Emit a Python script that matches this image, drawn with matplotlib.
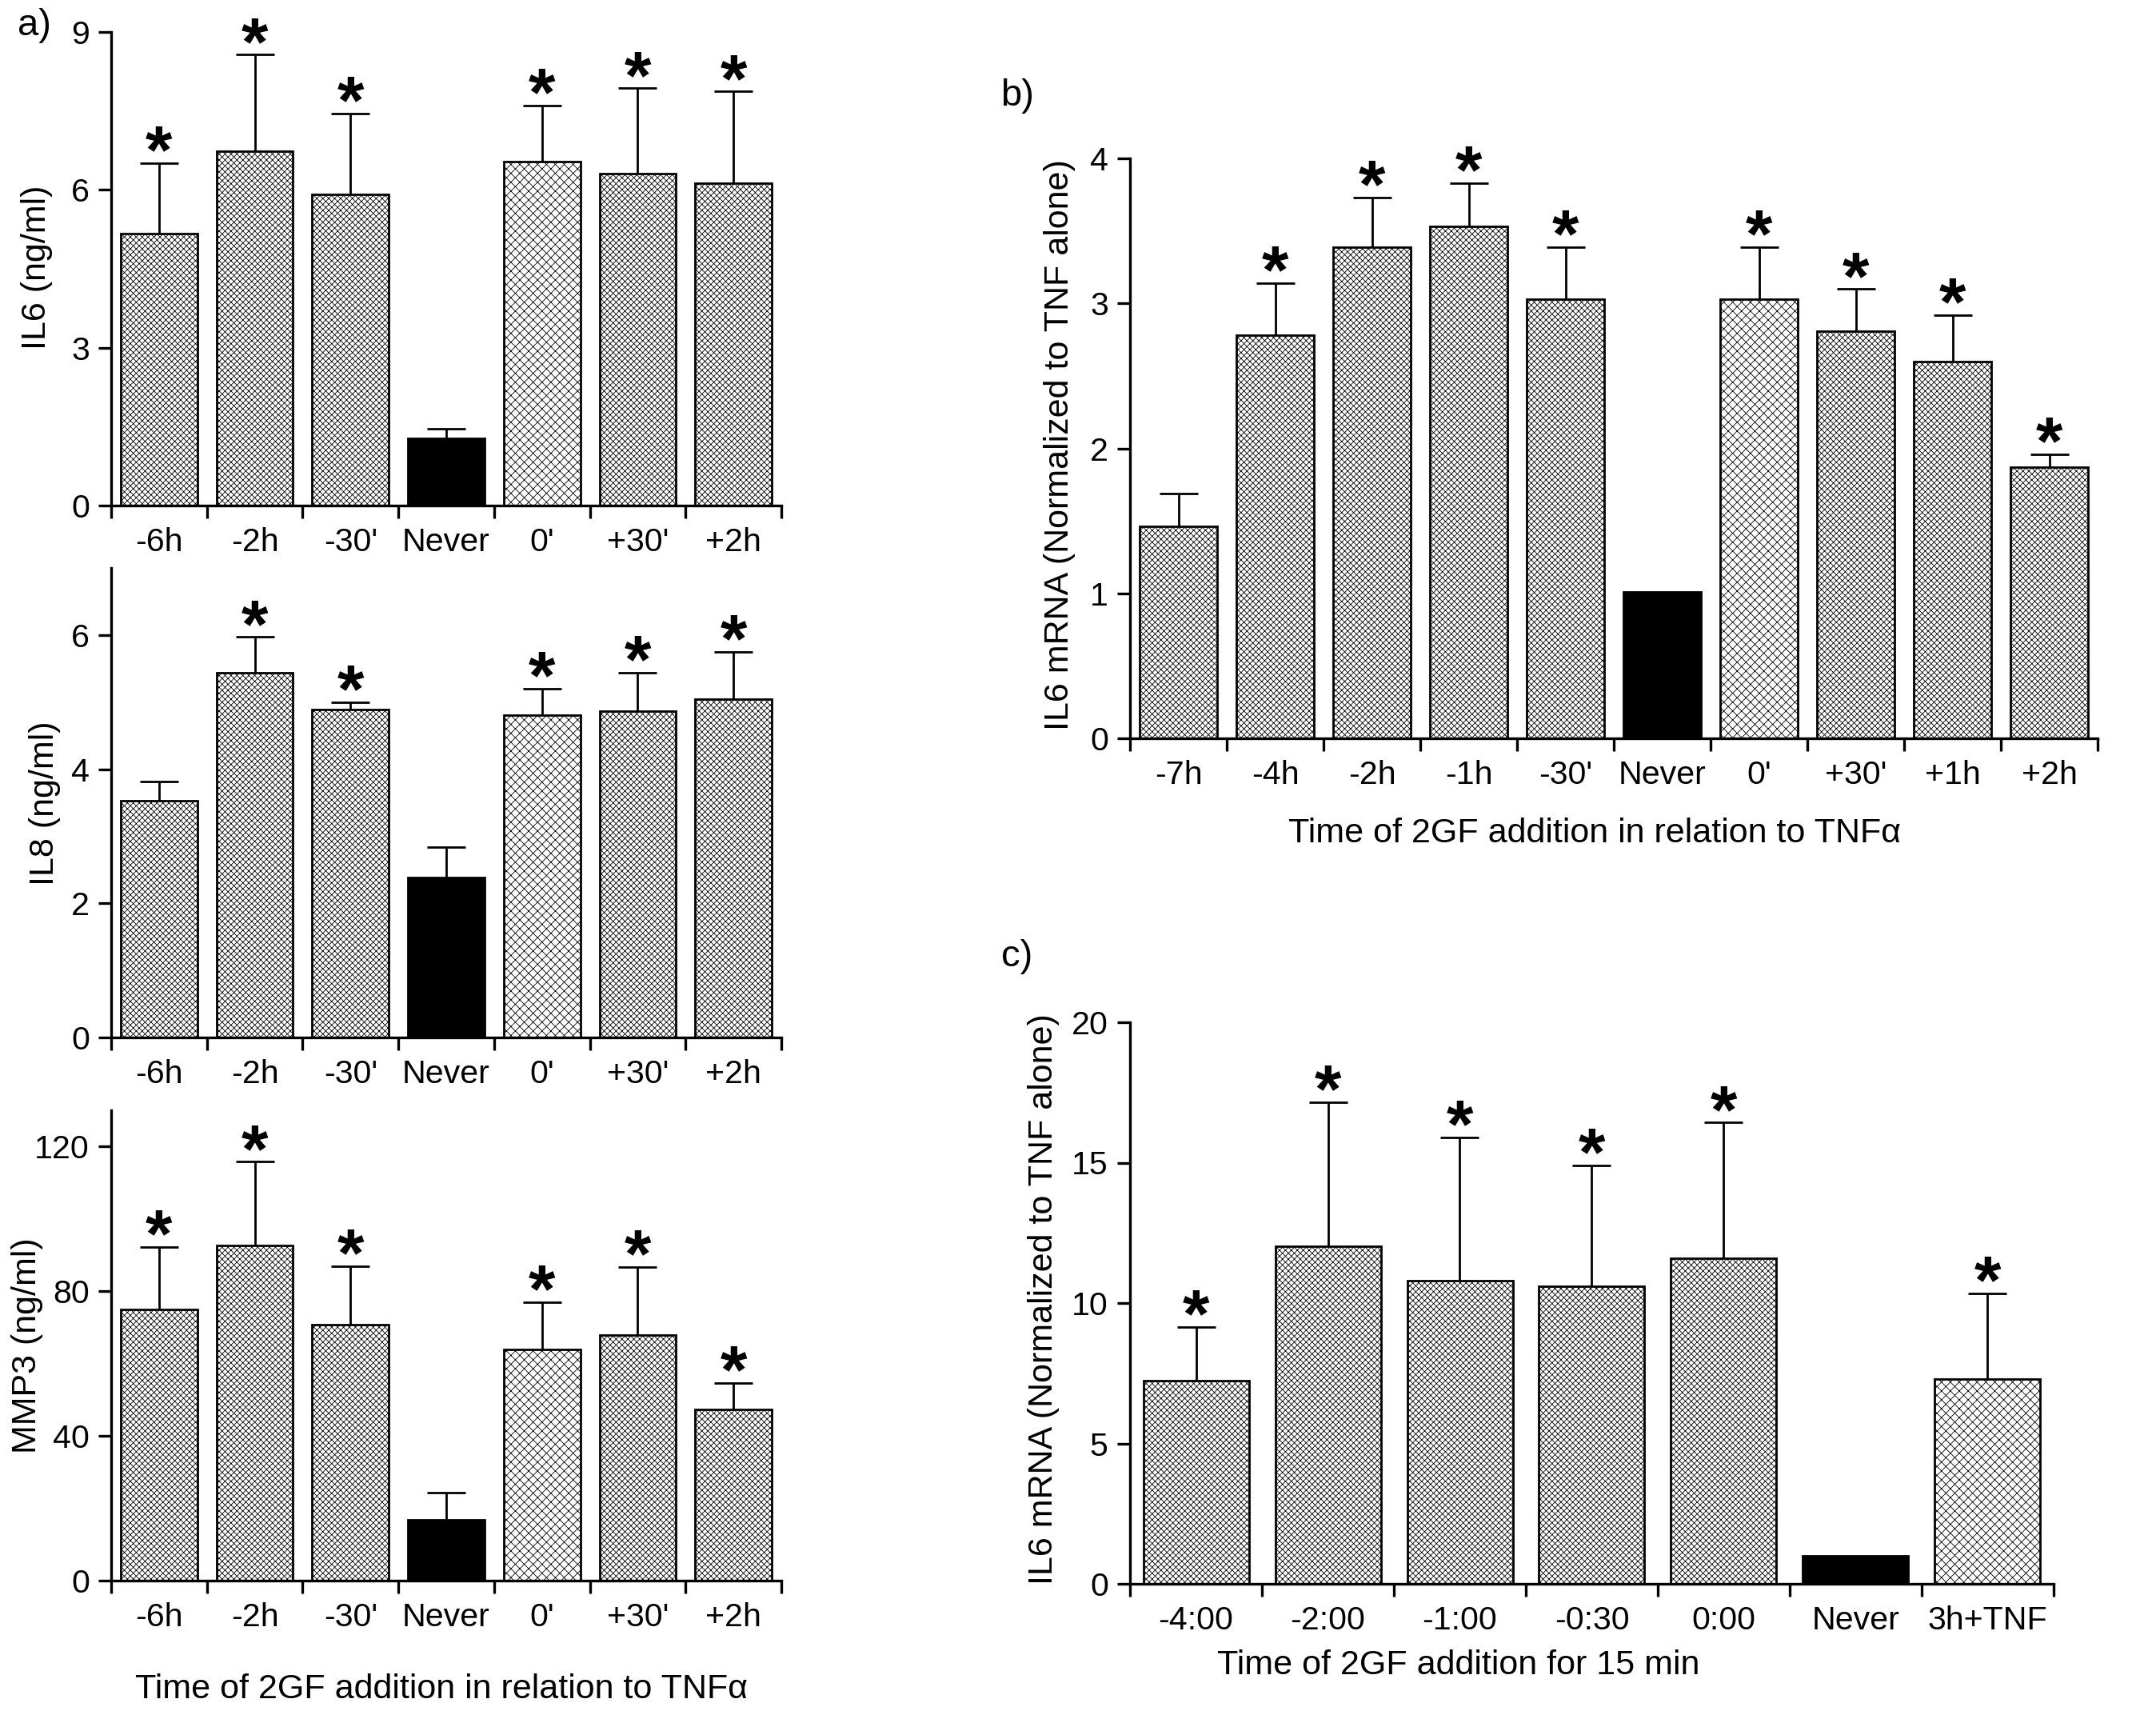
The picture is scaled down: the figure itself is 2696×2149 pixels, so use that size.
import numpy as np
import matplotlib
matplotlib.use("Agg")
import matplotlib.pyplot as plt

plt.rcParams['font.family'] = ['Liberation Sans', 'DejaVu Sans']
plt.rcParams['hatch.linewidth'] = 0.3

# ---------------- data ----------------
a_labels = ["-6h", "-2h", "-30'", "Never", "0'", "+30'", "+2h"]
a_styles = ["fine", "fine", "fine", "black", "coarse", "fine", "fine"]

il6_mean = [5.17, 6.73, 5.91, 1.28, 6.53, 6.31, 6.13]
il6_err = [1.34, 1.84, 1.54, 0.18, 1.07, 1.62, 1.74]
il6_star = [True, True, True, False, True, True, True]

il8_mean = [3.53, 5.44, 4.89, 2.39, 4.80, 4.86, 5.04]
il8_err = [0.29, 0.53, 0.11, 0.45, 0.40, 0.58, 0.71]
il8_star = [False, True, True, False, True, True, True]

mmp3_mean = [74.9, 92.7, 70.8, 16.7, 64.0, 67.8, 47.3]
mmp3_err = [17.4, 23.1, 16.1, 7.7, 13.0, 18.9, 7.3]
mmp3_star = [True, True, True, False, True, True, True]

b_labels = ["-7h", "-4h", "-2h", "-1h", "-30'", "Never", "0'", "+30'", "+1h", "+2h"]
b_styles = ["fine", "fine", "fine", "fine", "fine", "black", "coarse", "fine", "fine", "fine"]
b_mean = [1.46, 2.78, 3.39, 3.53, 3.03, 1.01, 3.03, 2.81, 2.60, 1.87]
b_err = [0.23, 0.36, 0.34, 0.30, 0.36, 0.0, 0.36, 0.29, 0.32, 0.09]
b_star = [False, True, True, True, True, False, True, True, True, True]

c_labels = ["-4:00", "-2:00", "-1:00", "-0:30", "0:00", "Never", "3h+TNF"]
c_styles = ["fine", "fine", "fine", "fine", "fine", "black", "coarse"]
c_mean = [7.23, 12.02, 10.81, 10.59, 11.60, 1.0, 7.28]
c_err = [1.92, 5.14, 5.09, 4.32, 4.83, 0.0, 3.06]
c_star = [True, True, True, True, True, False, True]

# ---------------- figure ----------------
W, H, DPI = 2696, 2149, 200
fig = plt.figure(figsize=(W / DPI, H / DPI), dpi=DPI)


def px_rect(left, top, right, bottom):
    return [left / W, 1 - bottom / H, (right - left) / W, (bottom - top) / H]


def ftext(xp, yp, s, **kw):
    fig.text(xp / W, 1 - yp / H, s, **kw)


TICK_FS = 14.8
LABEL_FS = 15.5
STAR_FS = 31
LW = 1.2


def panel(ax, labels, means, errs, stars, styles, ylim, yticks):
    n = len(labels)
    x = np.arange(n)
    for xi, m, s in zip(x, means, styles):
        if s == "black":
            ax.bar(xi, m, 0.8, facecolor="black", edgecolor="black", linewidth=1.0, zorder=2)
        elif s == "fine":
            ax.bar(xi, m, 0.8, facecolor="white", edgecolor="black", hatch="x" * 9,
                   linewidth=1.0, zorder=2)
        else:
            ax.bar(xi, m, 0.8, facecolor="white", edgecolor="black", hatch="x" * 6,
                   linewidth=1.0, zorder=2)
    for xi, m, e, st in zip(x, means, errs, stars):
        if e > 0:
            ax.plot([xi, xi], [m, m + e], color="black", lw=1.0, zorder=3, clip_on=False,
                    solid_capstyle="butt")
            ax.plot([xi], [m + e], marker="_", markersize=17, markeredgewidth=1.0,
                    color="black", zorder=3, clip_on=False)
        if st:
            off = 21 / DPI * 72 - 0.39 * STAR_FS
            ax.annotate("*", xy=(xi, m + e), xytext=(0, off), textcoords="offset points",
                        ha="center", va="baseline", fontsize=STAR_FS, fontweight="bold",
                        annotation_clip=False)
    ax.set_xlim(-0.5, n - 0.5)
    ax.set_ylim(*ylim)
    ax.set_yticks(yticks)
    ax.set_xticks(np.arange(n + 1) - 0.5)
    ax.set_xticklabels([])
    ax.set_xticks(x, minor=True)
    ax.set_xticklabels(labels, minor=True, fontsize=TICK_FS)
    ax.tick_params(axis="x", which="major", direction="out", length=5.8, width=LW)
    ax.tick_params(axis="x", which="minor", length=0, pad=9.8)
    ax.tick_params(axis="y", direction="out", length=5.8, width=LW, pad=4,
                   labelsize=TICK_FS)
    for sp in ("top", "right"):
        ax.spines[sp].set_visible(False)
    for sp in ("left", "bottom"):
        ax.spines[sp].set_linewidth(LW)


ax1 = fig.add_axes(px_rect(139, 40, 977, 632))
panel(ax1, a_labels, il6_mean, il6_err, il6_star, a_styles, (0, 9), [0, 3, 6, 9])

ax2 = fig.add_axes(px_rect(139, 710, 977, 1297))
panel(ax2, a_labels, il8_mean, il8_err, il8_star, a_styles, (0, 7), [0, 2, 4, 6])

ax3 = fig.add_axes(px_rect(139, 1388, 977, 1976))
panel(ax3, a_labels, mmp3_mean, mmp3_err, mmp3_star, a_styles, (0, 130), [0, 40, 80, 120])

ax4 = fig.add_axes(px_rect(1413, 198, 2623, 923))
panel(ax4, b_labels, b_mean, b_err, b_star, b_styles, (0, 4), [0, 1, 2, 3, 4])

ax5 = fig.add_axes(px_rect(1413, 1278, 2568, 1980))
panel(ax5, c_labels, c_mean, c_err, c_star, c_styles, (0, 20), [0, 5, 10, 15, 20])

# y-axis titles
ftext(46, 334, "IL6 (ng/ml)", fontsize=LABEL_FS, rotation=90, ha="center", va="center")
ftext(56, 1004, "IL8 (ng/ml)", fontsize=LABEL_FS, rotation=90, ha="center", va="center")
ftext(34, 1682, "MMP3 (ng/ml)", fontsize=LABEL_FS, rotation=90, ha="center", va="center")
ftext(1325, 556, "IL6 mRNA (Normalized to TNF alone)", fontsize=LABEL_FS, rotation=90,
      ha="center", va="center")
ftext(1305, 1624, "IL6 mRNA (Normalized to TNF alone)", fontsize=LABEL_FS, rotation=90,
      ha="center", va="center")

# panel letters
ftext(43, 32, "a)", fontsize=17, ha="center", va="center")
ftext(1272, 120, "b)", fontsize=17, ha="center", va="center")
ftext(1272, 1196, "c)", fontsize=17, ha="center", va="center")

# x-axis titles
ftext(552, 2112, "Time of 2GF addition in relation to TNF\u03b1", fontsize=LABEL_FS,
      ha="center", va="center")
ftext(1994, 1042, "Time of 2GF addition in relation to TNF\u03b1", fontsize=LABEL_FS,
      ha="center", va="center")
ftext(1824, 2082, "Time of 2GF addition for 15 min", fontsize=LABEL_FS,
      ha="center", va="center")

fig.savefig("out.png", dpi=DPI, facecolor="white")
